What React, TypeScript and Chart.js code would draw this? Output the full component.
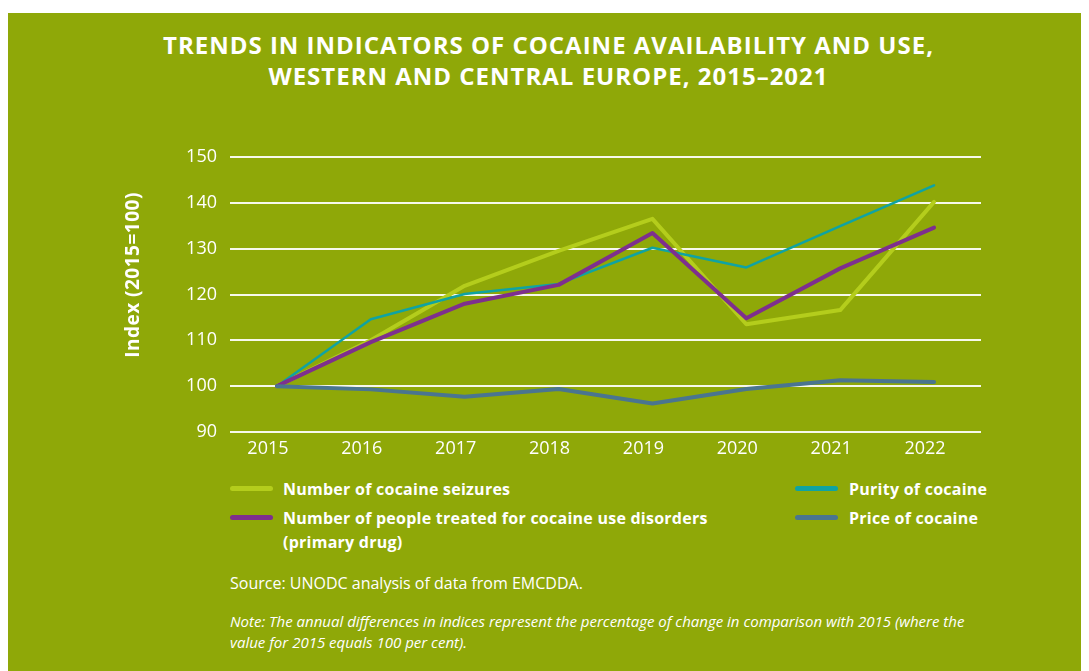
import React, { useEffect, useRef } from "react";
import { Chart, registerables } from "chart.js";

Chart.register(...registerables);

const years = ["2015", "2016", "2017", "2018", "2019", "2020", "2021", "2022"];
const seizures = [100, 110, 121.9, 129.5, 136.5, 113.5, 116.6, 140.2];
const treated = [100, 109.6, 118, 122.1, 133.4, 114.8, 125.7, 134.6];
const purity = [100, 114.6, 120.1, 122.3, 130.2, 125.9, 134.9, 143.8];
const price = [100, 99.3, 97.7, 99.4, 96.2, 99.4, 101.3, 100.9];
const yMin = 90;
const yMax = 150;
const yStep = 10;

const seriesNames = [
  "Number of cocaine seizures",
  "Number of people treated for cocaine use disorders (primary drug)",
  "Purity of cocaine",
  "Price of cocaine",
];
const seriesColors = ["#b4cd1c", "#7e2f8e", "#0fa3a3", "#4a7590"];

const BG = "#8fa808";
const FONT = "'Open Sans', 'Noto Sans', sans-serif";

export default function App() {
  const ref = useRef<HTMLCanvasElement | null>(null);

  useEffect(() => {
    document.body.style.overflow = "hidden";
    if (!ref.current) return;
    const chart = new Chart(ref.current, {
      type: "line",
      data: {
        labels: years,
        datasets: [
          { label: seriesNames[0], data: seizures, borderColor: seriesColors[0], borderWidth: 4, order: 4 },
          { label: seriesNames[2], data: purity, borderColor: seriesColors[2], borderWidth: 2.5, order: 3 },
          { label: seriesNames[1], data: treated, borderColor: seriesColors[1], borderWidth: 4, order: 2 },
          { label: seriesNames[3], data: price, borderColor: seriesColors[3], borderWidth: 4, order: 1 },
        ].map((d) => ({
          ...d,
          pointRadius: 0,
          pointHoverRadius: 0,
          tension: 0,
          fill: false,
          borderCapStyle: "round" as const,
          borderJoinStyle: "round" as const,
        })),
      },
      options: {
        animation: false,
        responsive: false,
        maintainAspectRatio: false,
        layout: { padding: { left: 110, right: 108, top: 27, bottom: 0 } },
        plugins: { legend: { display: false }, tooltip: { enabled: false }, title: { display: false } },
        scales: {
          x: {
            type: "category",
            offset: true,
            grid: { display: false, drawTicks: false },
            border: { display: false },
            ticks: {
              color: "#ffffff",
              font: { family: FONT, size: 18 },
              padding: 6,
              labelOffset: -9,
              maxRotation: 0,
            },
            afterFit: (scale: any) => {
              scale.height = 38;
            },
          },
          y: {
            min: yMin,
            max: yMax,
            grid: { color: "rgba(255,255,255,0.92)", lineWidth: 2, drawTicks: false },
            border: { display: false },
            ticks: {
              stepSize: yStep,
              color: "#ffffff",
              font: { family: FONT, size: 18 },
              padding: 13,
            },
            afterFit: (scale: any) => {
              scale.width = 112;
            },
          },
        },
      },
    });
    return () => chart.destroy();
  }, []);

  const legendText: React.CSSProperties = {
    position: "absolute",
    color: "#fff",
    fontFamily: FONT,
    fontWeight: 700,
    fontSize: 16,
    letterSpacing: "0.25px",
    lineHeight: "24px",
    whiteSpace: "nowrap",
  };
  const swatch = (color: string, left: number, top: number): React.CSSProperties => ({
    position: "absolute",
    left,
    top,
    width: 43,
    height: 5,
    borderRadius: 3,
    background: color,
  });

  return (
    <div
      style={{
        position: "relative",
        marginTop: 5,
        width: 1081,
        height: 658,
        background: BG,
        overflow: "hidden",
        fontFamily: FONT,
      }}
    >
      <div
        style={{
          position: "absolute",
          left: 0,
          top: 16,
          width: 1081,
          textAlign: "center",
          color: "#fff",
          fontWeight: 700,
          fontSize: 24,
          lineHeight: "31px",
          letterSpacing: "1px",
          whiteSpace: "nowrap",
        }}
      >
        TRENDS IN INDICATORS OF COCAINE AVAILABILITY AND USE,
        <br />
        WESTERN AND CENTRAL EUROPE, 2015–2021
      </div>

      <canvas
        ref={ref}
        width={1081}
        height={340}
        style={{ position: "absolute", left: 0, top: 117, width: 1081, height: 340 }}
      />

      <div
        style={{
          position: "absolute",
          left: 24,
          top: 250,
          width: 200,
          height: 24,
          textAlign: "center",
          transform: "rotate(-90deg)",
          color: "#fff",
          fontWeight: 700,
          fontSize: 19,
          letterSpacing: "0.5px",
          lineHeight: "24px",
          whiteSpace: "nowrap",
        }}
      >
        Index (2015=100)
      </div>

      <div style={swatch(seriesColors[0], 222, 473)} />
      <div style={{ ...legendText, left: 275, top: 464 }}>{seriesNames[0]}</div>
      <div style={swatch(seriesColors[1], 222, 502)} />
      <div style={{ ...legendText, left: 275, top: 493 }}>
        Number of people treated for cocaine use disorders
        <br />
        (primary drug)
      </div>
      <div style={swatch(seriesColors[2], 787, 473)} />
      <div style={{ ...legendText, left: 841, top: 464 }}>{seriesNames[2]}</div>
      <div style={swatch(seriesColors[3], 787, 502)} />
      <div style={{ ...legendText, left: 841, top: 493 }}>{seriesNames[3]}</div>

      <div
        style={{
          position: "absolute",
          left: 222,
          top: 558,
          color: "#fff",
          fontSize: 16,
          lineHeight: "24px",
          whiteSpace: "nowrap",
        }}
      >
        Source: UNODC analysis of data from EMCDDA.
      </div>
      <div
        style={{
          position: "absolute",
          left: 222,
          top: 598,
          color: "#fff",
          fontSize: 15,
          fontStyle: "italic",
          lineHeight: "21px",
          whiteSpace: "nowrap",
        }}
      >
        Note: The annual differences in indices represent the percentage of change in comparison with 2015 (where the
        <br />
        value for 2015 equals 100 per cent).
      </div>
    </div>
  );
}
